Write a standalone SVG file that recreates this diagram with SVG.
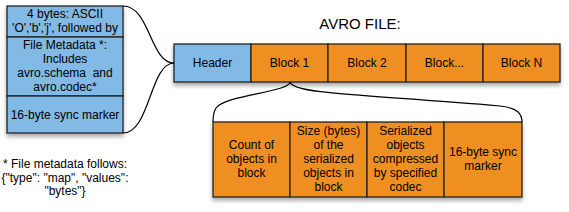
<svg xmlns="http://www.w3.org/2000/svg" width="569" height="212" viewBox="0 0 569 212">
<style>
text{font-family:"Liberation Sans",Arial,sans-serif;font-size:12px;fill:#000;text-anchor:middle}
.blue{fill:#83b9e5;stroke:#222;stroke-width:1.3}
.orange{fill:#ef8f22;stroke:#222;stroke-width:1.3}
.conn{fill:none;stroke:#000;stroke-width:1.2}
.title{font-size:15px}
</style>
<defs>
<filter id="sh" x="-10%" y="-10%" width="130%" height="140%">
<feGaussianBlur in="SourceAlpha" stdDeviation="2"/>
<feOffset dx="0" dy="3" result="b"/>
<feComponentTransfer><feFuncA type="linear" slope="0.35"/></feComponentTransfer>
<feMerge><feMergeNode/><feMergeNode in="SourceGraphic"/></feMerge>
</filter>
</defs>
<g id="header-detail" filter="url(#sh)">
<rect class="blue" x="7" y="6" width="116" height="31"/>
<rect class="blue" x="7" y="37" width="116" height="59"/>
<rect class="blue" x="7" y="96" width="116" height="37"/>
</g>
<g id="magic">
<text x="65" y="18">4 bytes: ASCII</text>
<text x="65" y="32">'O','b','j', followed by</text>
</g>
<g id="metadata">
<text x="65" y="49">File Metadata *:</text>
<text x="65" y="63">Includes</text>
<text x="65" y="77" xml:space="preserve">avro.schema  and</text>
<text x="65" y="91">avro.codec*</text>
</g>
<g id="sync-header">
<text x="65" y="119">16-byte sync marker</text>
</g>
<g id="footnote">
<text x="65" y="168">* File metadata follows:</text>
<text x="65" y="182">{"type": "map", "values":</text>
<text x="65" y="195">"bytes"}</text>
</g>
<text class="title" x="360" y="29">AVRO FILE:</text>
<g id="file-bar" filter="url(#sh)">
<rect class="blue" x="174" y="44" width="77" height="38"/>
<rect class="orange" x="251" y="44" width="77" height="38"/>
<rect class="orange" x="328" y="44" width="78" height="38"/>
<rect class="orange" x="406" y="44" width="77" height="38"/>
<rect class="orange" x="483" y="44" width="77" height="38"/>
</g>
<g id="header"><text x="212.5" y="67">Header</text></g>
<g id="block1"><text x="289.5" y="67">Block 1</text></g>
<g id="block2"><text x="367" y="67">Block 2</text></g>
<g id="blockdots"><text x="444.5" y="67">Block...</text></g>
<g id="blockN"><text x="521.5" y="67">Block N</text></g>
<g id="block-detail" filter="url(#sh)">
<rect class="orange" x="213" y="122" width="77" height="75"/>
<rect class="orange" x="290" y="122" width="77" height="75"/>
<rect class="orange" x="367" y="122" width="77" height="75"/>
<rect class="orange" x="444" y="122" width="78" height="75"/>
</g>
<g id="count">
<text x="251.5" y="149">Count of</text>
<text x="251.5" y="163">objects in</text>
<text x="251.5" y="177">block</text>
</g>
<g id="size">
<text x="328.5" y="135">Size (bytes)</text>
<text x="328.5" y="149">of the</text>
<text x="328.5" y="163">serialized</text>
<text x="328.5" y="177">objects in</text>
<text x="328.5" y="191">block</text>
</g>
<g id="serialized">
<text x="405.5" y="135">Serialized</text>
<text x="405.5" y="149">objects</text>
<text x="405.5" y="163">compressed</text>
<text x="405.5" y="177">by specified</text>
<text x="405.5" y="191">codec</text>
</g>
<g id="sync-block">
<text x="483" y="156">16-byte sync</text>
<text x="483" y="170">marker</text>
</g>
<g id="connectors">
<path class="conn" d="M123,6 C150,6 150,63 174,63"/>
<path class="conn" d="M123,133 C150,133 150,63 174,63"/>
<path class="conn" d="M290,82 C290,92 225,95 216,108 C213,113 213,118 213,122"/>
<path class="conn" d="M290,82 C293,95 380,95 500,106 C518,108 522,114 522,122"/>
</g>
</svg>
